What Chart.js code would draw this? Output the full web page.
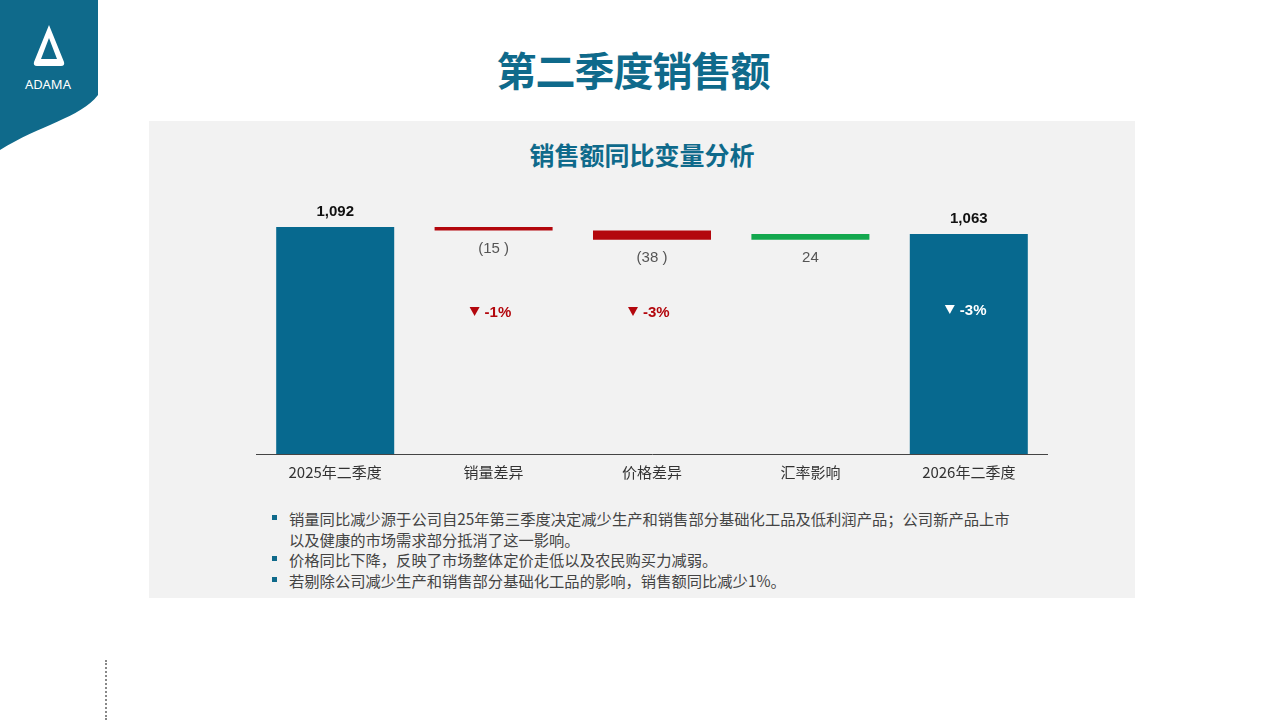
<!DOCTYPE html>
<html><head><meta charset="utf-8">
<script src="https://cdn.jsdelivr.net/npm/chart.js@4/dist/chart.umd.min.js"></script>
<style>
body{margin:0;width:1280px;height:720px;background:#fff;position:relative;overflow:hidden;font-family:"Noto Sans CJK SC","Noto Sans",sans-serif}
#title{position:absolute;left:0;width:1266px;top:40px;text-align:center;font-size:40px;font-weight:bold;color:#0f6a8b;letter-spacing:-1px}
#panel{position:absolute;left:149px;top:121px;width:986px;height:477px;background:#f2f2f2}
#sub{position:absolute;left:149px;width:986px;top:136px;text-align:center;font-size:25px;font-weight:bold;color:#0f6a8b}
#wrap{position:absolute;left:256px;top:180px;width:792px;height:310px}
#notes{position:absolute;left:272px;top:508px;width:790px;font-size:15.3px;color:#444;line-height:20.5px}
#notes div{position:relative;padding-left:17px}
#notes div:before{content:"";position:absolute;left:0;top:7px;width:5px;height:5px;background:#0f6a8b}
#dots{position:absolute;left:105px;top:660px;height:60px;border-left:2px dotted #888}
</style></head><body>
<svg style="position:absolute;left:0;top:0" width="100" height="152">
<path d="M0 0 H98 V95 C80 118 40 125 0 150 Z" fill="#0f6a8b"/>
<path d="M49 25 L34 62 Q33 66 37 66 L61 66 Q65 66 64 62 Z M49 38 L41 59 L57 59 Z" fill="#fff" fill-rule="evenodd"/>
<text x="48" y="89" fill="#fff" font-size="13" font-family="Noto Sans" text-anchor="middle">ADAMA</text>
</svg>
<div id="title">第二季度销售额</div>
<div id="panel"></div>
<div id="sub">销售额同比变量分析</div>
<div id="wrap"><canvas id="c"></canvas></div>
<div id="notes">
<div>销量同比减少源于公司自25年第三季度决定减少生产和销售部分基础化工品及低利润产品；公司新产品上市<br>以及健康的市场需求部分抵消了这一影响。</div>
<div>价格同比下降，反映了市场整体定价走低以及农民购买力减弱。</div>
<div>若剔除公司减少生产和销售部分基础化工品的影响，销售额同比减少1%。</div>
</div>
<div id="dots"></div>
<script>
const categories=["2025年二季度","销量差异","价格差异","汇率影响","2026年二季度"];
const startValue=1092, endValue=1063;
const changes=[-15,-38,24];
const valueLabels=["1,092","(15 )","(38 )","24","1,063"];
const pctLabels=[null,"-1%","-3%",null,"-3%"];
const axisMin=148, axisMax=1287;
const ranges=[[axisMin,startValue]];
let run=startValue;
changes.forEach(c=>{ranges.push([run,run+c]);run+=c;});
ranges.push([axisMin,endValue]);
const colors=["#07698f","#b3070d","#b3070d","#13a84e","#07698f"];
const labelPlugin={id:"lbl",afterDatasetsDraw(ch){
 const ctx=ch.ctx,meta=ch.getDatasetMeta(0),y=ch.scales.y;
 ctx.save();ctx.textAlign="center";
 meta.data.forEach((b,i)=>{
  const top=y.getPixelForValue(Math.max(...ranges[i])),bot=y.getPixelForValue(Math.min(...ranges[i]));
  if(i==0||i==4){ctx.font="bold 15px 'Liberation Sans'";ctx.fillStyle="#111";ctx.fillText(valueLabels[i],b.x,top-11);}
  else{ctx.font="15px 'Liberation Sans'";ctx.fillStyle="#555";ctx.fillText(valueLabels[i],b.x,bot+22);}
  if(pctLabels[i]){
   const py=i==4?top+81:y.getPixelForValue(1092)+90;
   ctx.fillStyle=i==4?"#fff":"#b3070d";ctx.font="bold 15px 'Liberation Sans'";
   ctx.beginPath();ctx.moveTo(b.x-24,py-10);ctx.lineTo(b.x-14,py-10);ctx.lineTo(b.x-19,py-1);ctx.closePath();ctx.fill();
   ctx.textAlign="left";ctx.fillText(pctLabels[i],b.x-9,py);ctx.textAlign="center";
  }
 });ctx.restore();}};
new Chart(document.getElementById("c"),{type:"bar",
 data:{labels:categories,datasets:[{data:ranges,backgroundColor:colors,barPercentage:0.745,categoryPercentage:1}]},
 options:{responsive:true,maintainAspectRatio:false,animation:false,
  layout:{padding:0},
  plugins:{legend:{display:false},tooltip:{enabled:false}},
  scales:{y:{display:false,min:axisMin,max:axisMax},
   x:{grid:{display:false,drawTicks:false},border:{color:"#444"},ticks:{color:"#333",padding:9,font:{size:15,family:"'Noto Sans CJK SC'"}}}}},
 plugins:[labelPlugin]});
</script></body></html>
